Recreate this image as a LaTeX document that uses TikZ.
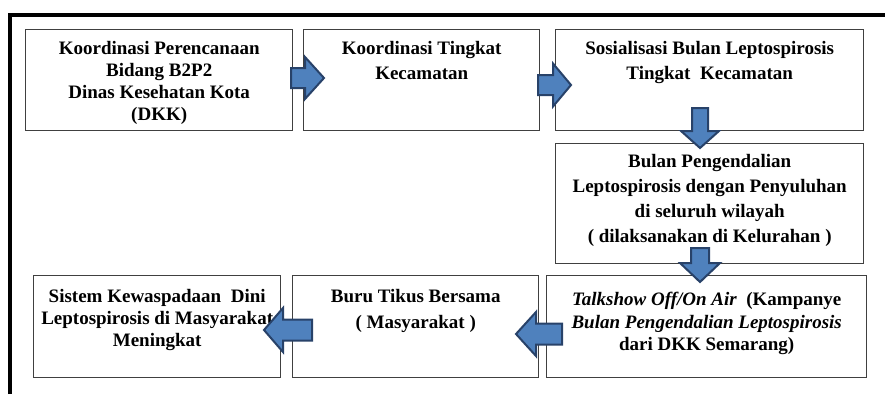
\documentclass[tikz,border=0pt]{standalone}
\usepackage{fontspec}
\setmainfont{Liberation Serif}
\usetikzlibrary{calc}
\definecolor{arrowfill}{RGB}{79,129,189}
\definecolor{arrowline}{RGB}{40,66,105}
\definecolor{boxline}{RGB}{64,64,64}
\tikzset{
  stepbox/.style={draw=boxline, line width=1.4pt, inner sep=0pt, anchor=north west},
  blockarrow/.style={fill=arrowfill, draw=arrowline, line width=2pt, line join=miter},
  frameline/.style={line width=4pt, black},
}
\newcommand{\boxcontent}[5]{\parbox[c][#2][t]{#1}{\centering\fontsize{19}{#3}\selectfont\bfseries\rule{0pt}{#4}#5\par}}
% #1 start, #2 end, #3 shaft half width, #4 head half width, #5 head length
\newcommand{\blockarr}[5]{%
  \coordinate (hb) at ($(#2)!#5!(#1)$);
  \draw[blockarrow] ($(#1)!#3!90:(#2)$) -- ($(hb)!#3!90:(#2)$) -- ($(hb)!#4!90:(#2)$) -- (#2)
    -- ($(hb)!#4!-90:(#2)$) -- ($(hb)!#3!-90:(#2)$) -- ($(#1)!#3!-90:(#2)$) -- cycle;
}
\begin{document}
\begin{tikzpicture}[x=1pt,y=-1pt]
\useasboundingbox (0,0) rectangle (885,394);
\draw[frameline] (10,394) -- (10,15) -- (885,15);

\node[stepbox] (b1) at (25,29) {\boxcontent{267pt}{101pt}{22pt}{25pt}{Koordinasi Perencanaan\\ Bidang B2P2\\ Dinas Kesehatan Kota\\ (DKK)}};
\node[stepbox] (b2) at (303,29) {\boxcontent{236pt}{101pt}{25pt}{25pt}{Koordinasi Tingkat\\ Kecamatan}};
\node[stepbox] (b3) at (555,29) {\boxcontent{308pt}{101pt}{25pt}{25pt}{Sosialisasi Bulan Leptospirosis\\ Tingkat\ \ Kecamatan}};
\node[stepbox] (b4) at (555,143) {\boxcontent{308pt}{120pt}{25pt}{24pt}{Bulan Pengendalian\\ Leptospirosis dengan Penyuluhan\\ di seluruh wilayah\\ ( dilaksanakan di Kelurahan )}};
\node[stepbox] (b5) at (546,275) {\boxcontent{320pt}{102pt}{22.5pt}{30pt}{\textit{Talkshow Off/On Air}\ \ (Kampanye\\ \textit{Bulan Pengendalian Leptospirosis}\\ dari DKK Semarang)}};
\node[stepbox] (b7) at (292,275) {\boxcontent{246pt}{102pt}{26pt}{27pt}{Buru Tikus Bersama\\ ( Masyarakat )}};
\node[stepbox] (b6) at (33,275) {\boxcontent{247pt}{102pt}{22pt}{27pt}{Sistem Kewaspadaan\ \ Dini\\ Leptospirosis di Masyarakat\\ Meningkat}};

\coordinate (a1s) at (291,78);  \coordinate (a1e) at (324,78);
\coordinate (a2s) at (538,85);  \coordinate (a2e) at (571,85);
\coordinate (a3s) at (700,108); \coordinate (a3e) at (700,148);
\coordinate (a4s) at (700,248); \coordinate (a4e) at (700,282);
\coordinate (a5s) at (562,334); \coordinate (a5e) at (516,334);
\coordinate (a6s) at (312,330); \coordinate (a6e) at (264,330);

\blockarr{a1s}{a1e}{10pt}{21pt}{19pt}
\blockarr{a2s}{a2e}{10pt}{21.5pt}{18pt}
\blockarr{a3s}{a3e}{8pt}{19pt}{17pt}
\blockarr{a4s}{a4e}{9pt}{20pt}{19pt}
\blockarr{a5s}{a5e}{10.5pt}{22pt}{20pt}
\blockarr{a6s}{a6e}{10.5pt}{22pt}{19pt}
\end{tikzpicture}
\end{document}
